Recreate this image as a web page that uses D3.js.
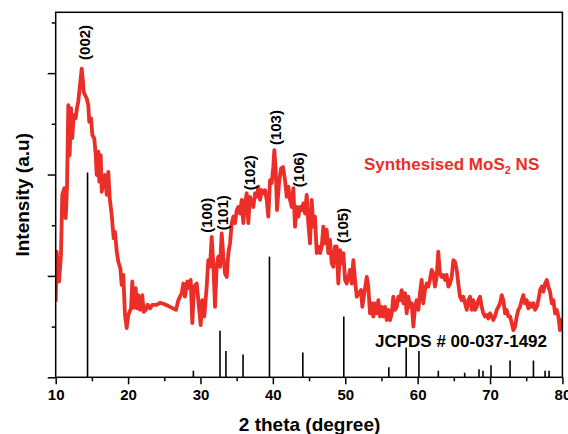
<!DOCTYPE html>
<html>
<head>
<meta charset="utf-8">
<script src="https://cdn.jsdelivr.net/npm/d3@7"></script>
<style>
  html, body { margin: 0; padding: 0; background: #fff; }
  svg { display: block; }
  text { font-family: Arial, "Liberation Sans", Helvetica, sans-serif; font-weight: bold; }
</style>
</head>
<body>
<svg id="chart" width="568" height="434"></svg>
<script>
// ---- Data ----
const twoTheta = [10.00,10.14,10.46,10.73,10.91,11.19,11.38,11.56,11.74,11.93,12.11,12.29,12.49,12.76,12.94,13.12,13.36,13.59,13.77,13.87,14.05,14.28,14.50,14.64,14.88,15.06,15.33,15.53,15.66,15.89,16.02,16.22,16.36,16.58,16.81,17.05,17.27,17.46,17.74,18.01,18.19,18.43,18.65,18.93,19.12,19.34,19.57,19.81,20.03,20.40,20.58,20.78,21.05,21.23,21.41,21.65,21.96,22.16,22.43,22.71,23.03,23.35,23.95,24.41,24.87,25.34,25.79,26.62,26.94,27.41,27.63,27.86,28.18,28.46,28.65,28.87,29.11,29.48,29.70,30.03,30.25,30.53,30.86,31.08,31.32,31.55,31.77,32.01,32.24,32.46,32.70,32.93,33.16,33.39,33.63,33.85,34.08,34.32,34.54,34.77,35.01,35.23,35.46,35.70,35.92,36.15,36.39,36.61,36.84,37.08,37.30,37.54,37.77,37.99,38.23,38.46,38.68,38.92,39.15,39.37,39.61,39.84,40.06,40.20,40.40,40.57,40.85,41.13,41.40,41.68,41.91,42.14,42.37,42.61,42.83,43.06,43.30,43.52,43.75,43.99,44.21,44.44,44.68,44.90,45.13,45.37,45.59,45.82,46.06,46.28,46.52,46.75,46.97,47.21,47.44,47.66,47.90,48.13,48.35,48.59,48.82,49.04,49.28,49.51,49.74,49.97,50.20,50.43,50.66,50.90,51.12,51.35,51.59,51.90,52.18,52.36,52.64,52.97,53.19,53.42,53.66,53.88,54.11,54.35,54.57,54.81,55.04,55.26,55.50,55.73,55.95,56.19,56.42,56.64,56.88,57.11,57.33,57.57,57.80,58.03,58.26,58.49,58.72,58.95,59.18,59.41,59.64,59.87,60.10,60.32,60.56,60.78,61.01,61.25,61.47,61.70,61.94,62.16,62.39,62.63,62.85,63.08,63.32,63.55,63.78,64.01,64.24,64.47,64.71,64.93,65.16,65.40,65.62,65.86,66.09,66.31,66.55,66.78,67.01,67.24,67.47,67.69,67.93,68.16,68.38,68.62,68.85,69.08,69.31,69.55,69.77,70.00,70.24,70.46,70.69,70.93,71.15,71.38,71.62,71.84,72.08,72.31,72.53,72.77,73.00,73.22,73.46,73.69,73.91,74.15,74.38,74.60,74.84,75.07,75.29,75.53,75.76,75.99,76.22,76.46,76.68,76.92,77.15,77.37,77.61,77.84,78.06,78.29,78.53,78.75,78.99,79.22,79.44,79.67,79.81,80.00];
const intensity = [149,248,189,241,360,373,314,373,537,438,531,472,517,511,531,544,577,609,583,563,557,550,537,504,511,478,471,438,399,445,386,438,366,386,399,360,405,353,320,274,287,248,228,215,182,202,123,97,123,136,189,137,176,136,162,133,162,129,133,143,136,143,143,147,145,142,139,133,152,166,185,159,189,176,192,107,179,185,152,103,152,120,179,231,218,277,225,139,218,238,218,284,238,205,198,245,264,304,317,304,330,336,323,350,304,343,363,304,356,343,336,363,356,376,350,369,363,369,350,317,389,383,415,448,409,330,383,412,415,389,356,376,350,336,373,297,336,317,336,330,343,323,360,304,264,350,297,317,245,258,245,258,297,264,291,245,271,225,218,258,258,185,251,225,245,192,185,198,212,185,231,192,159,166,172,139,166,198,179,126,146,120,146,126,152,120,139,120,139,113,133,113,126,159,133,139,159,152,172,146,166,126,159,139,146,100,139,152,133,166,192,146,172,185,179,192,212,205,179,198,248,205,198,202,192,202,179,185,198,231,228,212,185,159,152,159,146,133,152,159,133,152,133,139,152,159,139,126,120,123,116,126,120,113,120,133,139,146,162,152,126,133,120,120,107,93,100,120,133,139,152,162,146,152,136,146,139,146,133,139,152,172,179,169,185,192,179,169,146,152,126,133,120,93,113,93];

// JCPDS # 00-037-1492 reference pattern
const refTheta = [14.40,29.02,32.70,33.52,35.88,39.53,44.14,49.80,56.02,58.42,60.18,62.86,66.50,68.48,69.03,70.14,72.77,76.00,77.61,78.16];
const refIntensity = [404,13,92,52,45,238,49,120,20,59,52,13,9,16,13,24,33,33,13,13];

// Peak labels (hkl)
const peakNames = ["(002)","(100)","(101)","(102)","(103)","(106)","(105)"];
const peakTheta = [13.91,30.90,33.11,36.84,40.30,43.48,49.69];
const peakIntensity = [626,285,290,369,458,375,265];

const xTicks = [10,20,30,40,50,60,70,80];
const xMinor = [15,25,35,45,55,65,75];
const yMajor = [0,200,400,600];
const yMinor = [100,300,500,700];

const sampleName = "Synthesised MoS";
const refName = "JCPDS # 00-037-1492";
const xTitle = "2 theta (degree)";
const yTitle = "Intensity (a.u)";

// ---- Layout ----
const svg = d3.select("#chart");
const L = 55.7, R = 562.4, T = 12.3, B = 377.3;
const x = d3.scaleLinear().domain([10, 80]).range([L, R]);
const y = d3.scaleLinear().domain([0, 720]).range([B, T]);

svg.append("defs").append("clipPath").attr("id", "clip")
  .append("rect").attr("x", L).attr("y", T).attr("width", R - L).attr("height", B - T);

// reference lines
svg.append("g").selectAll("line").data(refTheta).join("line")
  .attr("x1", d => x(d)).attr("x2", d => x(d))
  .attr("y1", y(0)).attr("y2", (d, i) => y(refIntensity[i]))
  .attr("stroke", "#000").attr("stroke-width", 1.6);

// sample curve
const pts = twoTheta.map((t, i) => [t, intensity[i]]);
svg.append("path")
  .datum(pts)
  .attr("clip-path", "url(#clip)")
  .attr("fill", "none")
  .attr("stroke", "#ec2e28")
  .attr("stroke-width", 3.8)
  .attr("stroke-linejoin", "round")
  .attr("d", d3.line().x(d => x(d[0])).y(d => y(d[1])));

// frame
svg.append("rect").attr("x", L).attr("y", T).attr("width", R - L).attr("height", B - T)
  .attr("fill", "none").attr("stroke", "#000").attr("stroke-width", 1.5);

// x axis
const xAxis = d3.axisBottom(x).tickValues(xTicks).tickSize(7).tickFormat(d3.format("d"));
const gx = svg.append("g").attr("transform", `translate(0,${B})`).call(xAxis);
gx.select(".domain").remove();
gx.selectAll(".tick line").attr("stroke-width", 1.5);
gx.selectAll(".tick text").attr("font-size", 15).attr("font-weight", "bold")
  .attr("font-family", "Arial, 'Liberation Sans', sans-serif").attr("fill", "#000").attr("dy", "0.95em").attr("y", 8);
const xAxisMinor = d3.axisBottom(x).tickValues(xMinor).tickSize(4).tickFormat("");
const gxm = svg.append("g").attr("transform", `translate(0,${B})`).call(xAxisMinor);
gxm.select(".domain").remove();
gxm.selectAll(".tick line").attr("stroke-width", 1.5);

// y axis (no labels)
const yAxis = d3.axisLeft(y).tickValues(yMajor).tickSize(8).tickFormat("");
const gy = svg.append("g").attr("transform", `translate(${L},0)`).call(yAxis);
gy.select(".domain").remove();
gy.selectAll(".tick line").attr("stroke-width", 1.5);
const yAxisMinor = d3.axisLeft(y).tickValues(yMinor).tickSize(4).tickFormat("");
const gym = svg.append("g").attr("transform", `translate(${L},0)`).call(yAxisMinor);
gym.select(".domain").remove();
gym.selectAll(".tick line").attr("stroke-width", 1.5);

// peak labels (rotated)
svg.append("g").selectAll("text").data(peakNames).join("text")
  .attr("transform", (d, i) => `translate(${x(peakTheta[i]) + 5.5},${y(peakIntensity[i])}) rotate(-90)`)
  .attr("font-size", 15).attr("fill", "#000")
  .text(d => d);

// sample legend text
const st = svg.append("text").attr("x", 364).attr("y", 169.5).attr("font-size", 17).attr("fill", "#ec2e28");
st.append("tspan").text(sampleName);
st.append("tspan").attr("font-size", 11).attr("dy", 4).text("2");
st.append("tspan").attr("dy", -4).text(" NS");

svg.append("text").attr("x", 375).attr("y", 346.5).attr("font-size", 17).attr("fill", "#000").text(refName);

// axis titles
svg.append("text").attr("x", (L + R) / 2 + 0.5).attr("y", 430.5).attr("text-anchor", "middle")
  .attr("font-size", 19).attr("fill", "#000").text(xTitle);
svg.append("text").attr("transform", `translate(28.5,${(T + B) / 2 + 0}) rotate(-90)`)
  .attr("text-anchor", "middle").attr("font-size", 19).attr("fill", "#000").text(yTitle);
</script>
</body>
</html>
